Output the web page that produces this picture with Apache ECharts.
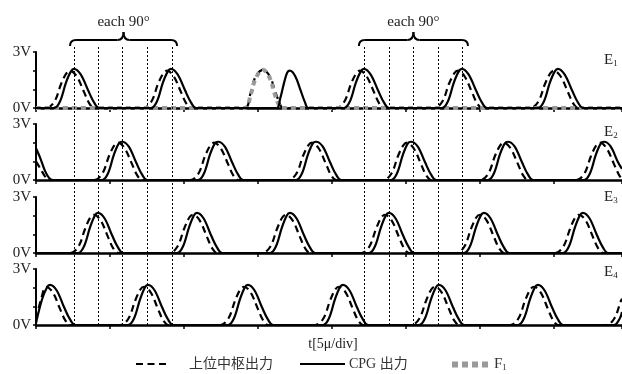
<!DOCTYPE html>
<html>
<head>
<meta charset="utf-8">
<script src="https://cdn.jsdelivr.net/npm/echarts@6/dist/echarts.min.js"></script>
<style>
  html, body { margin: 0; padding: 0; background: #fff; }
  #chart { width: 622px; height: 374px; }
</style>
</head>
<body>
<div id="chart"></div>
<script>
// 時間 [μs] (1 div = 5μs), 電圧 [V]
const panelNames = ['1', '2', '3', '4'];
const yLabels = ['0V', '', '', '3V'];
const xTitle = 't[5μ/div]';
const guideTimes = [2.57, 4.19, 5.81, 7.5, 9.19, 22.16, 23.85, 25.47, 27.16, 28.78];
const braceRanges = [[2.3, 9.53], [21.82, 29.19]];
const braceText = 'each 90°';
const legendNames = ['上位中枢出力', 'CPG 出力', 'F1'];

// E1
const e1Upper = [[0,0],[0.7,0],[1.25,0.35],[1.7,1.3],[2.05,1.85],[2.3,2.0],[2.75,1.7],[3.25,0.85],[3.6,0.25],[3.95,0],
  [7.25,0],[7.8,0.35],[8.25,1.3],[8.6,1.85],[8.85,2.0],[9.3,1.7],[9.8,0.85],[10.15,0.25],[10.5,0],
  [14.1,0],[14.5,0.8],[14.85,1.7],[15.34,2.05],[15.8,1.7],[16.2,0.8],[16.55,0.1],[16.7,0],
  [20.29,0],[20.84,0.35],[21.29,1.3],[21.64,1.85],[21.89,2.0],[22.34,1.7],[22.84,0.85],[23.19,0.25],[23.54,0],
  [26.91,0],[27.46,0.35],[27.91,1.3],[28.26,1.85],[28.51,2.0],[28.96,1.7],[29.46,0.85],[29.81,0.25],[30.16,0],
  [33.4,0],[33.95,0.35],[34.4,1.3],[34.75,1.85],[35.0,2.0],[35.45,1.7],[35.95,0.85],[36.3,0.25],[36.65,0],[39.6,0]];
const e1Cpg = [[0,0],[1.22,0],[1.62,0.35],[2.02,1.35],[2.35,1.95],[2.57,2.1],[3.02,1.8],[3.52,0.95],[3.92,0.3],[4.27,0],
  [7.77,0],[8.17,0.35],[8.57,1.35],[8.9,1.95],[9.12,2.1],[9.57,1.8],[10.07,0.95],[10.47,0.3],[10.82,0],
  [16.25,0],[16.5,0.5],[16.78,1.4],[16.98,1.9],[17.16,2.0],[17.52,1.7],[17.9,0.9],[18.18,0.3],[18.4,0],
  [20.81,0],[21.21,0.35],[21.61,1.35],[21.94,1.95],[22.16,2.1],[22.61,1.8],[23.11,0.95],[23.51,0.3],[23.86,0],
  [27.43,0],[27.83,0.35],[28.23,1.35],[28.56,1.95],[28.78,2.1],[29.23,1.8],[29.73,0.95],[30.13,0.3],[30.48,0],
  [33.92,0],[34.32,0.35],[34.72,1.35],[35.05,1.95],[35.27,2.1],[35.72,1.8],[36.22,0.95],[36.62,0.3],[36.97,0],[39.6,0]];
const f1Input = [[0,0],[14.1,0],[14.5,0.7],[14.85,1.6],[15.34,2.05],[15.8,1.6],[16.15,0.7],[16.45,0.1],[16.6,0],[39.6,0]];

// E2
const e2Upper = [[0,1.0],[0.3,0.6],[0.6,0.2],[0.8,0],
  [3.94,0],[4.49,0.35],[4.94,1.3],[5.29,1.85],[5.54,2.0],[5.99,1.7],[6.49,0.85],[6.84,0.25],[7.19,0],
  [10.43,0],[10.98,0.35],[11.43,1.3],[11.78,1.85],[12.03,2.0],[12.48,1.7],[12.98,0.85],[13.33,0.25],[13.68,0],
  [17.05,0],[17.6,0.35],[18.05,1.3],[18.4,1.85],[18.65,2.0],[19.1,1.7],[19.6,0.85],[19.95,0.25],[20.3,0],
  [23.47,0],[24.02,0.35],[24.47,1.3],[24.82,1.85],[25.07,2.0],[25.52,1.7],[26.02,0.85],[26.37,0.25],[26.72,0],
  [30.02,0],[30.57,0.35],[31.02,1.3],[31.37,1.85],[31.62,2.0],[32.07,1.7],[32.57,0.85],[32.92,0.25],[33.27,0],
  [36.51,0],[37.06,0.35],[37.51,1.3],[37.86,1.85],[38.11,2.0],[38.56,1.7],[39.06,0.85],[39.41,0.25],[39.6,0.05]];
const e2Cpg = [[0,1.7],[0.3,1.15],[0.6,0.5],[0.9,0.1],[1.2,0],
  [4.46,0],[4.86,0.35],[5.26,1.35],[5.59,1.95],[5.81,2.05],[6.26,1.8],[6.76,0.95],[7.16,0.3],[7.51,0],
  [10.95,0],[11.35,0.35],[11.75,1.35],[12.08,1.95],[12.3,2.05],[12.75,1.8],[13.25,0.95],[13.65,0.3],[14.0,0],
  [17.57,0],[17.97,0.35],[18.37,1.35],[18.7,1.95],[18.92,2.05],[19.37,1.8],[19.87,0.95],[20.27,0.3],[20.62,0],
  [23.99,0],[24.39,0.35],[24.79,1.35],[25.12,1.95],[25.34,2.05],[25.79,1.8],[26.29,0.95],[26.69,0.3],[27.04,0],
  [30.54,0],[30.94,0.35],[31.34,1.35],[31.67,1.95],[31.89,2.05],[32.34,1.8],[32.84,0.95],[33.24,0.3],[33.59,0],
  [37.03,0],[37.43,0.35],[37.83,1.35],[38.16,1.95],[38.38,2.05],[38.83,1.8],[39.33,0.95],[39.6,0.6]];

// E3
const e3Upper = [[0,0],[2.32,0],[2.87,0.35],[3.32,1.3],[3.67,1.9],[3.92,2.05],[4.37,1.75],[4.87,0.85],[5.22,0.25],[5.57,0],
  [9.01,0],[9.56,0.35],[10.01,1.3],[10.36,1.9],[10.61,2.05],[11.06,1.75],[11.56,0.85],[11.91,0.25],[12.26,0],
  [15.29,0],[15.84,0.35],[16.29,1.3],[16.64,1.9],[16.89,2.05],[17.34,1.75],[17.84,0.85],[18.19,0.25],[18.54,0],
  [21.98,0],[22.53,0.35],[22.98,1.3],[23.33,1.9],[23.58,2.05],[24.03,1.75],[24.53,0.85],[24.88,0.25],[25.23,0],
  [28.4,0],[28.95,0.35],[29.4,1.3],[29.75,1.9],[30.0,2.05],[30.45,1.75],[30.95,0.85],[31.3,0.25],[31.65,0],
  [35.09,0],[35.64,0.35],[36.09,1.3],[36.44,1.9],[36.69,2.05],[37.14,1.75],[37.64,0.85],[37.99,0.25],[38.34,0],[39.6,0]];
const e3Cpg = [[0,0],[2.84,0],[3.24,0.35],[3.64,1.35],[3.97,2.0],[4.19,2.15],[4.64,1.85],[5.14,0.95],[5.54,0.3],[5.89,0],
  [9.53,0],[9.93,0.35],[10.33,1.35],[10.66,2.0],[10.88,2.15],[11.33,1.85],[11.83,0.95],[12.23,0.3],[12.58,0],
  [15.81,0],[16.21,0.35],[16.61,1.35],[16.94,2.0],[17.16,2.15],[17.61,1.85],[18.11,0.95],[18.51,0.3],[18.86,0],
  [22.5,0],[22.9,0.35],[23.3,1.35],[23.63,2.0],[23.85,2.15],[24.3,1.85],[24.8,0.95],[25.2,0.3],[25.55,0],
  [28.92,0],[29.32,0.35],[29.72,1.35],[30.05,2.0],[30.27,2.15],[30.72,1.85],[31.22,0.95],[31.62,0.3],[31.97,0],
  [35.61,0],[36.01,0.35],[36.41,1.35],[36.74,2.0],[36.96,2.15],[37.41,1.85],[37.91,0.95],[38.31,0.3],[38.66,0],[39.6,0]];

// E4
const e4Upper = [[0,0.3],[0.35,1.4],[0.68,2.05],[1.13,1.75],[1.63,0.85],[1.98,0.25],[2.33,0],
  [5.7,0],[6.25,0.35],[6.7,1.3],[7.05,1.9],[7.3,2.05],[7.75,1.75],[8.25,0.85],[8.6,0.25],[8.95,0],
  [12.45,0],[13.0,0.35],[13.45,1.3],[13.8,1.9],[14.05,2.05],[14.5,1.75],[15.0,0.85],[15.35,0.25],[15.7,0],
  [18.87,0],[19.42,0.35],[19.87,1.3],[20.22,1.9],[20.47,2.05],[20.92,1.75],[21.42,0.85],[21.77,0.25],[22.12,0],
  [25.36,0],[25.91,0.35],[26.36,1.3],[26.71,1.9],[26.96,2.05],[27.41,1.75],[27.91,0.85],[28.26,0.25],[28.61,0],
  [32.05,0],[32.6,0.35],[33.05,1.3],[33.4,1.9],[33.65,2.05],[34.1,1.75],[34.6,0.85],[34.95,0.25],[35.3,0],
  [38.53,0],[39.08,0.35],[39.53,1.3],[39.6,1.4]];
const e4Cpg = [[0,0.1],[0.4,1.35],[0.73,2.0],[0.95,2.15],[1.4,1.85],[1.9,0.95],[2.3,0.3],[2.65,0],
  [6.22,0],[6.62,0.35],[7.02,1.35],[7.35,2.0],[7.57,2.15],[8.02,1.85],[8.52,0.95],[8.92,0.3],[9.27,0],
  [12.97,0],[13.37,0.35],[13.77,1.35],[14.1,2.0],[14.32,2.15],[14.77,1.85],[15.27,0.95],[15.67,0.3],[16.02,0],
  [19.39,0],[19.79,0.35],[20.19,1.35],[20.52,2.0],[20.74,2.15],[21.19,1.85],[21.69,0.95],[22.09,0.3],[22.44,0],
  [25.88,0],[26.28,0.35],[26.68,1.35],[27.01,2.0],[27.23,2.15],[27.68,1.85],[28.18,0.95],[28.58,0.3],[28.93,0],
  [32.57,0],[32.97,0.35],[33.37,1.35],[33.7,2.0],[33.92,2.15],[34.37,1.85],[34.87,0.95],[35.27,0.3],[35.62,0],
  [39.05,0],[39.45,0.35],[39.6,0.7]];

const upperSeries = [e1Upper, e2Upper, e3Upper, e4Upper];
const cpgSeries = [e1Cpg, e2Cpg, e3Cpg, e4Cpg];

const serif = 'Liberation Serif, Noto Sans CJK JP';
const gridTops = [52, 124, 197, 269];
const labelY = [60, 132, 197, 272];
const tMax = 39.6;

const chart = echarts.init(document.getElementById('chart'));

const grid = gridTops.map(t => ({ left: 36, right: 0, top: t, height: 56 }));
grid.push({ left: 36, right: 0, top: 45, height: 280 }); // 点線用

const xAxis = gridTops.map((t, i) => ({
  type: 'value', gridIndex: i, min: 0, max: tMax, interval: 5,
  axisLine: { onZero: false, lineStyle: { color: '#000', width: 2.5 } },
  axisTick: { show: true, length: 4, lineStyle: { color: '#000', width: 1.5 } },
  axisLabel: { show: false },
  splitLine: { show: false },
  name: i === 3 ? xTitle : '',
  nameLocation: 'middle',
  nameGap: 12,
  nameTextStyle: { fontFamily: serif, fontSize: 14, color: '#222', padding: [0, 0, 0, 8] }
}));
xAxis.push({ type: 'value', gridIndex: 4, min: 0, max: tMax, show: false });

const yAxis = gridTops.map((t, i) => ({
  type: 'value', gridIndex: i, min: 0, max: 3, interval: 1,
  axisLine: { show: true, lineStyle: { color: '#000', width: 2 } },
  axisTick: { show: true, length: 3, lineStyle: { color: '#000', width: 1.5 } },
  axisLabel: { formatter: v => yLabels[v] || '', fontFamily: serif, fontSize: 15, color: '#222', margin: 5 },
  splitLine: { show: false }
}));
yAxis.push({ type: 'value', gridIndex: 4, min: 0, max: 1, show: false });

const lineBase = {
  type: 'line', symbol: 'none', showSymbol: false, smooth: 0.35,
  silent: true, animation: false
};

const series = [];
for (let i = 0; i < 4; i++) {
  series.push(Object.assign({}, lineBase, {
    name: legendNames[0], xAxisIndex: i, yAxisIndex: i, data: upperSeries[i],
    itemStyle: { color: '#000' },
    lineStyle: { color: '#000', width: 2.2, type: [7, 4.5] }
  }));
  if (i === 0) {
    series.push(Object.assign({}, lineBase, {
      name: legendNames[2], xAxisIndex: 0, yAxisIndex: 0, data: f1Input,
      itemStyle: { color: '#999' },
      lineStyle: { color: '#999', width: 4, type: [5, 4] }
    }));
  }
  series.push(Object.assign({}, lineBase, {
    name: legendNames[1], xAxisIndex: i, yAxisIndex: i, data: cpgSeries[i],
    itemStyle: { color: '#000' },
    lineStyle: { color: '#000', width: 2.2 }
  }));
}
series.push({
  type: 'line', xAxisIndex: 4, yAxisIndex: 4, data: [], silent: true, animation: false,
  markLine: {
    silent: true, animation: false, symbol: ['none', 'none'],
    label: { show: false },
    lineStyle: { color: '#000', width: 1, type: [2, 2] },
    data: guideTimes.map(t => ({ xAxis: t }))
  }
});

const legendText = { fontFamily: serif, fontSize: 14, color: '#333' };
const hideSymbol = { color: 'rgba(0,0,0,0)', borderColor: 'rgba(0,0,0,0)', borderWidth: 0 };
const legend = [
  { data: [legendNames[0]], left: 135, top: 357, padding: 0, itemWidth: 31, itemHeight: 14,
    selectedMode: false, itemStyle: hideSymbol,
    textStyle: Object.assign({ padding: [0, 0, 0, 17] }, legendText) },
  { data: [legendNames[1]], left: 299, top: 357, padding: 0, itemWidth: 45, itemHeight: 14,
    selectedMode: false, itemStyle: hideSymbol,
    textStyle: Object.assign({ padding: [0, 0, 0, -1] }, legendText) },
  { data: [legendNames[2]], left: 449, top: 357, padding: 0, itemWidth: 37, itemHeight: 14,
    selectedMode: false, itemStyle: hideSymbol, lineStyle: { width: 6, type: [6, 4] },
    formatter: () => '{a|F}{s|1}',
    textStyle: Object.assign({
      rich: {
        a: { fontFamily: serif, fontSize: 15, color: '#333' },
        s: { fontFamily: serif, fontSize: 9, color: '#333', padding: [7, 0, 0, 0] }
      }
    }, legendText) }
];

chart.setOption({ animation: false, grid, xAxis, yAxis, series, legend });

// 括弧と E ラベル
const px = t => chart.convertToPixel({ xAxisIndex: 0 }, t);
const graphic = [];
const braceStyle = { fill: null, stroke: '#000', lineWidth: 2 };
const curve = (x1, y1, cx, cy, x2, y2) => ({
  type: 'bezierCurve', silent: true, style: braceStyle,
  shape: { x1, y1, cpx1: cx, cpy1: cy, x2, y2 }
});
const seg = (x1, y1, x2, y2) => ({
  type: 'line', silent: true, style: braceStyle, shape: { x1, y1, x2, y2 }
});
braceRanges.forEach(([a, b]) => {
  const x1 = px(a), x2 = px(b), xm = (x1 + x2) / 2;
  const yTip = 32, yMid = 40, yEnd = 46, r = 6;
  graphic.push(curve(x1, yEnd, x1, yMid, x1 + r, yMid));
  graphic.push(seg(x1 + r, yMid, xm - r, yMid));
  graphic.push(curve(xm - r, yMid, xm, yMid, xm, yTip));
  graphic.push(curve(xm, yTip, xm, yMid, xm + r, yMid));
  graphic.push(seg(xm + r, yMid, x2 - r, yMid));
  graphic.push(curve(x2 - r, yMid, x2, yMid, x2, yEnd));
  graphic.push({ type: 'text', x: xm, y: 22, silent: true,
    style: { text: braceText, align: 'center', verticalAlign: 'middle', fontFamily: serif, fontSize: 15, fill: '#222' } });
});
panelNames.forEach((n, i) => {
  graphic.push({ type: 'text', x: 604, y: labelY[i], silent: true,
    style: {
      text: '{e|E}{s|' + n + '}', verticalAlign: 'middle',
      rich: {
        e: { fontFamily: serif, fontSize: 15, fill: '#222' },
        s: { fontFamily: serif, fontSize: 9, fill: '#222', padding: [7, 0, 0, 0] }
      }
    } });
});
chart.setOption({ graphic });
</script>
</body>
</html>
